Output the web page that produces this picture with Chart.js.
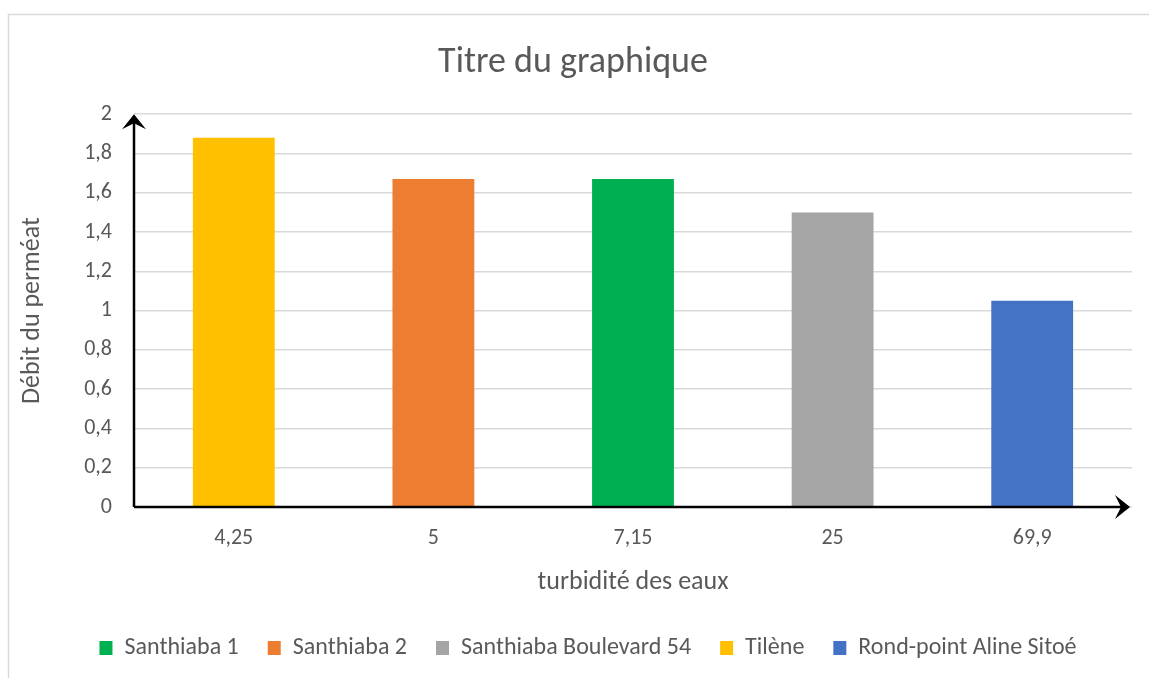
<!DOCTYPE html>
<html>
<head>
<meta charset="utf-8">
<script src="https://cdn.jsdelivr.net/npm/chart.js@4"></script>
<style>
  html, body { margin: 0; padding: 0; background: #fff; overflow: hidden; }
  #chart { position: absolute; left: 0; top: 0; }
</style>
</head>
<body>
<canvas id="chart" width="1149" height="678"></canvas>
<script>
// categories (turbidité) and one value per site
const categories = ['4,25', '5', '7,15', '25', '69,9'];
const santhiaba1 = [null, null, 1.67, null, null];
const santhiaba2 = [null, 1.67, null, null, null];
const boulevard54 = [null, null, null, 1.5, null];
const tilene = [1.88, null, null, null, null];
const rondPoint = [null, null, null, null, 1.05];
const yTicks = [0, 0.2, 0.4, 0.6, 0.8, 1, 1.2, 1.4, 1.6, 1.8, 2];

const FONT = "Carlito, Calibri, 'Liberation Sans Narrow', 'Noto Sans', sans-serif";
const TXT = '#595959';

// frame + black axes with arrows
const axesPlugin = {
  id: 'axes',
  afterLayout(chart) {
    // legend sits a bit right of centre in the original
    const lg = chart.legend;
    if (lg) { lg.left += 15; lg.right += 15; }
  },
  beforeDraw(chart) {
    const c = chart.ctx;
    c.save();
    c.strokeStyle = '#d9d9d9';
    c.lineWidth = 1.5;
    c.strokeRect(8.5, 14.5, 1160, 700);
    c.restore();
  },
  afterDatasetsDraw(chart) {
    const c = chart.ctx;
    const x = chart.scales.x, y = chart.scales.y;
    const x0 = x.left, y0 = y.getPixelForValue(0), yTop = y.getPixelForValue(2);
    const xEnd = x.right - 2;
    c.save();
    c.strokeStyle = '#000';
    c.fillStyle = '#000';
    c.lineWidth = 2.5;
    c.beginPath();
    c.moveTo(x0, y0);
    c.lineTo(x0, yTop + 4);
    c.moveTo(x0, y0);
    c.lineTo(xEnd - 4, y0);
    c.stroke();
    // arrow up
    c.beginPath();
    c.moveTo(x0, yTop);
    c.lineTo(x0 + 12, yTop + 15);
    c.lineTo(x0, yTop + 9);
    c.lineTo(x0 - 12, yTop + 15);
    c.closePath();
    c.fill();
    // arrow right
    c.beginPath();
    c.moveTo(xEnd, y0);
    c.lineTo(xEnd - 15, y0 + 12);
    c.lineTo(xEnd - 9, y0);
    c.lineTo(xEnd - 15, y0 - 12);
    c.closePath();
    c.fill();
    c.restore();
  }
};

new Chart(document.getElementById('chart'), {
  type: 'bar',
  data: {
    labels: categories,
    datasets: [
      { label: 'Santhiaba 1', data: santhiaba1, backgroundColor: '#00B050' },
      { label: 'Santhiaba 2', data: santhiaba2, backgroundColor: '#ED7D31' },
      { label: 'Santhiaba Boulevard 54', data: boulevard54, backgroundColor: '#A5A5A5' },
      { label: 'Tilène', data: tilene, backgroundColor: '#FFC000' },
      { label: 'Rond-point Aline Sitoé', data: rondPoint, backgroundColor: '#4472C4' }
    ]
  },
  options: {
    responsive: false,
    animation: false,
    devicePixelRatio: 1,
    grouped: false,
    categoryPercentage: 1,
    barPercentage: 0.41,
    layout: { padding: { left: 14, right: 17, top: 41, bottom: 8 } },
    plugins: {
      title: {
        display: true,
        text: 'Titre du graphique',
        color: TXT,
        font: { family: FONT, size: 36, weight: 'normal' },
        padding: { top: 0, bottom: 30 }
      },
      legend: {
        position: 'bottom',
        labels: {
          color: TXT,
          font: { family: FONT, size: 24 },
          boxWidth: 13,
          boxHeight: 14,
          padding: 29
        }
      },
      tooltip: { enabled: false }
    },
    scales: {
      x: {
        grid: { display: false, drawTicks: false },
        border: { display: false },
        ticks: { color: TXT, font: { family: FONT, size: 22, lineHeight: 1 }, padding: 20 },
        title: {
          display: true,
          text: 'turbidité des eaux',
          color: TXT,
          font: { family: FONT, size: 26, lineHeight: 1 },
          padding: { top: 0, bottom: 12 }
        }
      },
      y: {
        min: 0,
        max: 2,
        afterBuildTicks(s) { s.ticks = yTicks.map(v => ({ value: v })); },
        afterFit(s) { s.width = 120; },
        grid: { color: '#d9d9d9', lineWidth: 1.5, drawTicks: false },
        border: { display: false },
        ticks: {
          color: TXT,
          font: { family: FONT, size: 22 },
          padding: 22,
          callback: v => String(v).replace('.', ',')
        },
        title: {
          display: true,
          text: 'Débit du perméat',
          color: TXT,
          font: { family: FONT, size: 26 },
          padding: { top: 3, bottom: 0 }
        }
      }
    }
  },
  plugins: [axesPlugin]
});
</script>
</body>
</html>
